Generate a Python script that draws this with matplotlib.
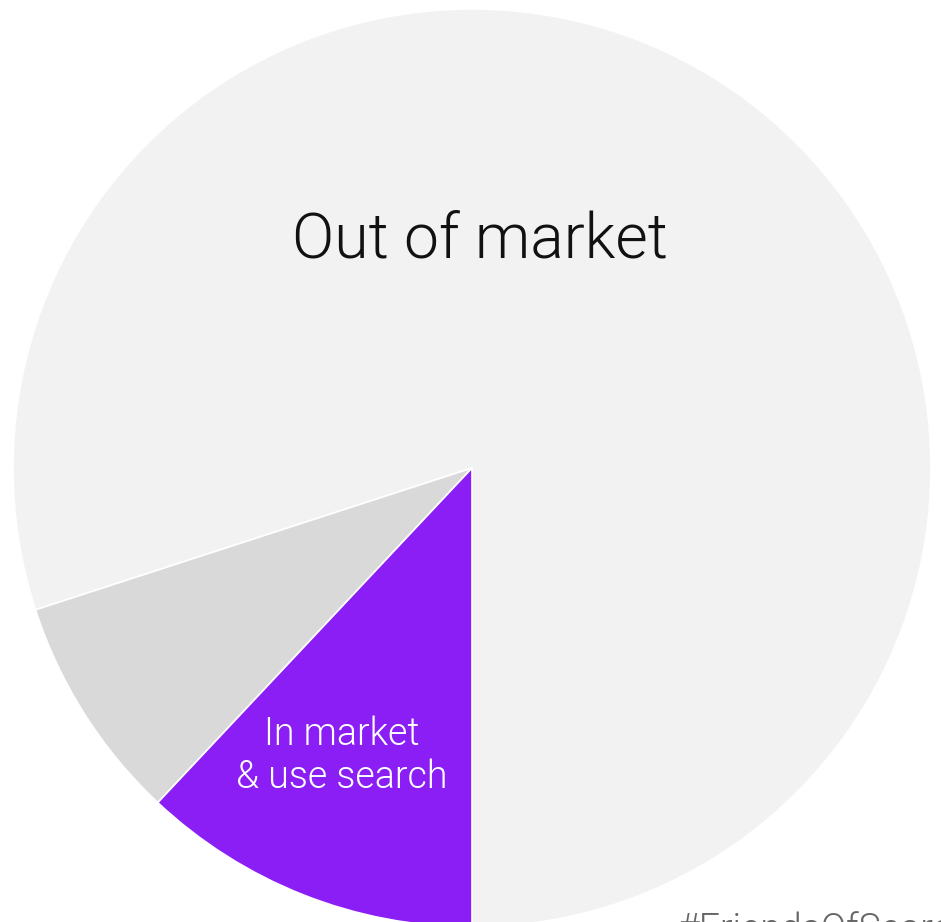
import matplotlib.pyplot as plt

plt.rcParams['font.family'] = ['Roboto', 'DejaVu Sans']

# share of people, in percent
segments = ['Out of market', 'In market & no search', 'In market & use search']
shares = [80, 8, 12]
colors = ['#f2f2f2', '#d9d9d9', '#8a1ef5']

W, H = 941, 922
fig = plt.figure(figsize=(W / 100, H / 100), dpi=100)
ax = fig.add_axes([0, 0, 1, 1])

cx, cy, r = 472, H - 468, 459
ax.pie(shares, colors=colors, startangle=270, counterclock=True,
       center=(cx, cy), radius=r,
       wedgeprops=dict(edgecolor='white', linewidth=1.2))

ax.set_xlim(0, W)
ax.set_ylim(0, H)
ax.set_aspect('equal')
ax.axis('off')

ax.text(480, H - 257, 'Out of market', fontsize=45, fontweight=300,
        color='#111111', ha='center', va='baseline')
ax.text(342, H - 745, 'In market', fontsize=27, fontweight=300,
        color='white', ha='center', va='baseline')
ax.text(342, H - 788, '& use search', fontsize=27, fontweight=300,
        color='white', ha='center', va='baseline')
ax.text(678, H - 941, '#FriendsOfSearch', fontsize=27, fontweight=300,
        color='#666666', ha='left', va='baseline', clip_on=False)

fig.savefig('out.png', dpi=100, facecolor='white')
plt.close(fig)
